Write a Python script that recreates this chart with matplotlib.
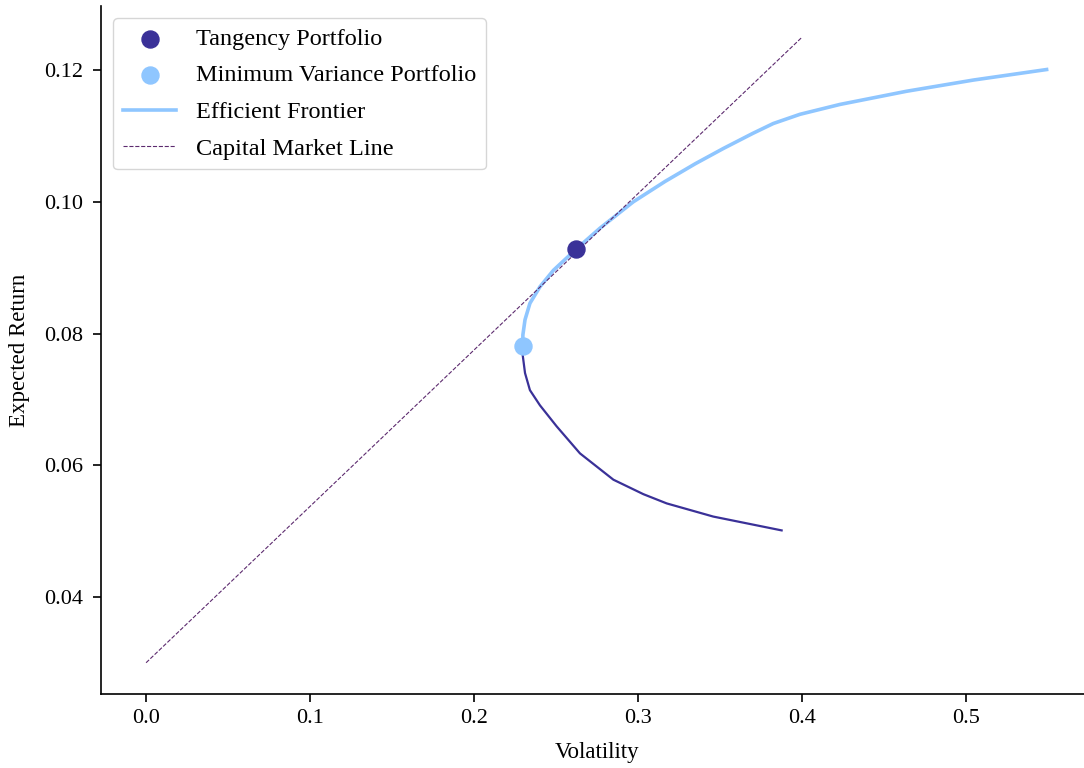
import numpy as np
import matplotlib.pyplot as plt

plt.rcParams['font.family'] = ['Liberation Serif', 'DejaVu Serif']

# Efficient (upper) branch of the frontier
eff_vol = [0.2297, 0.2298, 0.2311, 0.2341, 0.2402, 0.2484, 0.2622, 0.2768, 0.2971,
           0.3165, 0.3350, 0.3520, 0.3700, 0.3825, 0.3988, 0.4232, 0.4638, 0.5045, 0.5492]
eff_ret = [0.0781, 0.0798, 0.0821, 0.0846, 0.0871, 0.0896, 0.0928, 0.0960, 0.1000,
           0.1031, 0.1058, 0.1081, 0.1104, 0.1119, 0.1133, 0.1148, 0.1168, 0.1185, 0.1201]

# Inefficient (lower) branch
low_vol = [0.2297, 0.2297, 0.2311, 0.2341, 0.2402, 0.2504, 0.2646, 0.2850, 0.3033,
           0.3175, 0.3459, 0.3876]
low_ret = [0.0781, 0.0767, 0.0740, 0.0714, 0.0691, 0.0659, 0.0618, 0.0578, 0.0556,
           0.0542, 0.0522, 0.0501]

# Capital market line end points
cml_vol = [0.0, 0.4]
cml_ret = [0.03, 0.125]

tangency = (0.2622, 0.0928)
min_var = (0.2297, 0.0781)

dark = '#3a3198'
light = '#8fc6ff'
cml_color = '#5c2a6e'

fig = plt.figure(figsize=(10.84, 7.68), dpi=100)
ax = fig.add_axes([101 / 1084, 74 / 768, 992 / 1084, 688 / 768])

ax.plot(low_vol, low_ret, color=dark, lw=1.6)
ax.scatter(*tangency, s=150, color=dark, zorder=5, label='Tangency Portfolio')
ax.scatter(*min_var, s=150, color=light, zorder=5, label='Minimum Variance Portfolio')
ax.plot(eff_vol, eff_ret, color=light, lw=2.6, label='Efficient Frontier')
ax.plot(cml_vol, cml_ret, color=cml_color, lw=0.8, ls='--', label='Capital Market Line')

ax.set_xlim(-0.0275, 0.5775)
ax.set_ylim(0.02525, 0.12975)
ax.set_xticks([0.0, 0.1, 0.2, 0.3, 0.4, 0.5])
ax.set_yticks([0.04, 0.06, 0.08, 0.10, 0.12])
ax.set_xticklabels(['0.0', '0.1', '0.2', '0.3', '0.4', '0.5'])
ax.set_yticklabels(['0.04', '0.06', '0.08', '0.10', '0.12'])
ax.tick_params(labelsize=16, length=6, width=1.2)
ax.tick_params(axis='y', pad=7)
ax.tick_params(axis='x', pad=5)
ax.set_xlabel('Volatility', fontsize=16.5, labelpad=10)
ax.set_ylabel('Expected Return', fontsize=16.5, labelpad=10)
ax.spines['top'].set_visible(False)
ax.spines['right'].set_visible(False)
ax.spines['left'].set_linewidth(1.2)
ax.spines['bottom'].set_linewidth(1.2)

ax.legend(loc='upper left', fontsize=17.5, frameon=True, labelspacing=0.6,
          handlelength=2.2, handletextpad=0.8)

fig.savefig('out.png', dpi=100)
